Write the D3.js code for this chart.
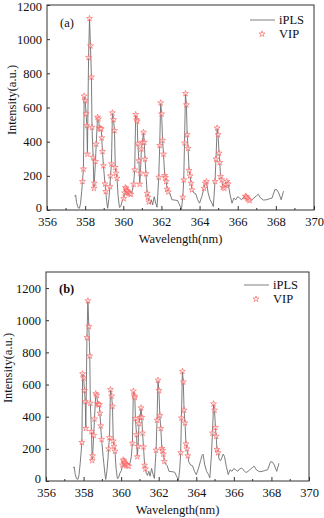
<!DOCTYPE html>
<html><head><meta charset="utf-8">
<script src="https://cdn.jsdelivr.net/npm/d3@7"></script>
<style>body{margin:0;background:#fff}svg{display:block}text{font-family:"Liberation Serif","Times New Roman",serif;fill:#111}</style>
</head><body><svg id="c" width="324" height="518"></svg>
<script>
// spectrum (iPLS) wavelengths and intensities
const wavelength = [357.45,357.50,357.55,357.62,357.70,357.76,357.82,357.86,357.91,357.95,358.00,358.05,358.09,358.12,358.18,358.23,358.28,358.33,358.36,358.42,358.46,358.48,358.54,358.58,358.65,358.70,358.75,358.80,358.84,358.87,358.91,358.96,359.04,359.08,359.13,359.18,359.24,359.30,359.33,359.38,359.43,359.49,359.54,359.58,359.62,359.67,359.73,359.80,359.86,359.94,360.02,360.07,360.11,360.15,360.18,360.22,360.26,360.30,360.34,360.40,360.47,360.54,360.60,360.65,360.70,360.73,360.76,360.82,360.86,360.90,360.95,361.00,361.06,361.10,361.14,361.19,361.25,361.29,361.34,361.40,361.47,361.54,361.62,361.70,361.77,361.86,361.91,361.96,362.01,362.06,362.11,362.17,362.21,362.25,362.30,362.36,362.45,362.55,362.70,362.85,362.95,363.05,363.12,363.17,363.21,363.26,363.31,363.35,363.40,363.45,363.50,363.55,363.60,363.70,363.80,363.90,364.00,364.12,364.23,364.30,364.36,364.45,364.55,364.65,364.72,364.81,364.86,364.92,364.97,365.02,365.06,365.10,365.16,365.22,365.30,365.37,365.43,365.50,365.60,365.70,365.80,365.90,366.00,366.10,366.20,366.30,366.40,366.45,366.50,366.55,366.62,366.70,366.85,367.00,367.08,367.20,367.35,367.50,367.65,367.80,367.95,368.05,368.15,368.28,368.40];
const intensity = [80,88,45,15,10,40,110,167,240,667,641,563,494,327,892,1121,961,778,484,308,127,157,284,386,543,533,480,475,475,422,343,259,153,108,50,10,60,137,200,270,569,529,465,249,216,186,80,15,20,50,67,100,131,125,112,110,102,100,95,92,110,151,235,559,529,520,388,288,151,216,357,396,455,396,298,212,98,75,47,35,60,30,78,40,16,192,378,627,563,408,327,202,190,167,122,106,95,60,58,55,30,4,75,176,392,682,616,441,361,231,200,157,118,100,95,60,40,80,127,157,167,100,60,40,20,167,298,480,441,333,278,196,176,133,127,147,167,153,90,40,70,60,78,70,60,75,80,78,70,62,55,55,70,85,92,70,58,60,65,70,120,118,100,60,110];
// VIP-selected wavelengths, panel (a) and (b)
const vipA = [357.86,357.91,357.95,358.00,358.05,358.09,358.12,358.18,358.23,358.28,358.33,358.36,358.42,358.46,358.48,358.54,358.58,358.65,358.70,358.75,358.80,358.84,358.87,358.91,358.96,359.04,359.08,359.30,359.33,359.38,359.43,359.49,359.54,359.58,359.62,359.67,360.02,360.07,360.11,360.15,360.18,360.22,360.26,360.30,360.34,360.40,360.54,360.60,360.65,360.70,360.73,360.76,360.82,360.86,360.90,360.95,361.00,361.06,361.10,361.14,361.19,361.25,361.29,361.34,361.86,361.91,361.96,362.01,362.06,362.11,362.17,362.21,362.25,362.30,362.36,363.12,363.17,363.21,363.26,363.31,363.35,363.40,363.45,363.50,363.55,363.60,364.23,364.30,364.36,364.81,364.86,364.92,364.97,365.02,365.06,365.10,365.16,365.22,365.30,365.37,365.43,365.50,366.40,366.45,366.50,366.55,366.62];
const vipB = [357.91,357.95,358.00,358.05,358.09,358.12,358.18,358.23,358.28,358.33,358.36,358.42,358.46,358.48,358.54,358.58,358.65,358.70,358.75,358.80,358.84,358.87,358.91,358.96,359.33,359.38,359.43,359.49,359.54,359.58,359.62,359.67,360.07,360.11,360.15,360.18,360.22,360.26,360.30,360.34,360.40,360.60,360.65,360.70,360.73,360.76,360.82,360.86,360.90,360.95,361.00,361.06,361.10,361.14,361.19,361.25,361.29,361.86,361.91,361.96,362.01,362.06,362.11,362.17,362.21,362.25,362.30,363.17,363.21,363.26,363.31,363.35,363.40,363.45,363.50,363.55,364.86,364.92,364.97,365.02,365.06,365.10,365.16];
const xTicks = [356,358,360,362,364,366,368,370];
const yTicks = [0,200,400,600,800,1000,1200];

const spectrum = wavelength.map((w,i)=>({w, v: intensity[i]}));
const lookup = new Map(spectrum.map(d=>[d.w.toFixed(2), d]));
const svg = d3.select("#c");
const starPath = d3.symbol().type(d3.symbolStar).size(11)();

function panel(o){
  const g = svg.append("g");
  const x = d3.scaleLinear().domain([356,370]).range([o.left,o.right]);
  const y = d3.scaleLinear().domain([0,o.yMax]).range([o.bottom,o.top]);
  g.append("path").datum(spectrum)
    .attr("d", d3.line().x(d=>x(d.w)).y(d=>y(d.v)))
    .attr("fill","none").attr("stroke","#6e6e6e").attr("stroke-width",0.9).attr("stroke-linejoin","round");
  g.selectAll("path.star").data(o.vip.map(w=>lookup.get(w.toFixed(2)))).join("path")
    .attr("class","star").attr("d",starPath)
    .attr("transform",d=>`translate(${x(d.w)},${y(d.v)})`)
    .attr("fill","#fff").attr("fill-opacity",0.5).attr("stroke","#f55").attr("stroke-width",0.6);
  const minorX = d3.range(356,371,1);
  const xa = g.append("g").attr("transform",`translate(0,${o.bottom})`)
    .call(d3.axisBottom(x).tickValues(xTicks).tickSizeInner(-4).tickSizeOuter(0).tickFormat(d3.format("d")));
  xa.select(".domain").remove();
  xa.selectAll("text").attr("font-size",12.5).attr("y",5).attr("dy","0.85em");
  xa.selectAll("line").attr("stroke","#333");
  g.append("g").selectAll("line").data(minorX.filter(v=>v%2)).join("line")
    .attr("x1",d=>x(d)).attr("x2",d=>x(d)).attr("y1",o.bottom).attr("y2",o.bottom-2).attr("stroke","#333");
  const ya = g.append("g").attr("transform",`translate(${o.left},0)`)
    .call(d3.axisLeft(y).tickValues(yTicks).tickSizeInner(-3).tickSizeOuter(0).tickPadding(5).tickFormat(d3.format("d")));
  ya.select(".domain").remove();
  ya.selectAll("text").attr("font-size",12.5).attr("dy", d=> d===0 ? "0.1em" : (d===1200 && o.top<10 ? "0.45em" : "0.32em"));
  ya.selectAll("line").attr("stroke","#333");
  g.append("rect").attr("x",o.left).attr("y",o.top).attr("width",o.right-o.left).attr("height",o.bottom-o.top)
    .attr("fill","none").attr("stroke","#333").attr("stroke-width",1);
  g.append("text").attr("x",(o.left+o.right)/2).attr("y",o.bottom+33).attr("text-anchor","middle").attr("font-size",12.5).text("Wavelength(nm)");
  g.append("text").attr("transform",`translate(${o.ytx},${o.yty}) rotate(-90)`).attr("text-anchor","middle").attr("dy","0.35em").attr("font-size",12.5).text("Intensity(a.u.)");
  g.append("text").attr("x",o.left+13).attr("y",o.labelY).attr("font-size",12.5).attr("font-weight",o.labelBold?"bold":"normal").text(o.label);
  g.append("line").attr("x1",o.legX-29).attr("x2",o.legX-4).attr("y1",o.legY).attr("y2",o.legY).attr("stroke","#aaa").attr("stroke-width",1.5);
  g.append("text").attr("x",o.legX).attr("y",o.legY).attr("dy","0.35em").attr("font-size",12.5).text("iPLS");
  g.append("path").attr("d",starPath).attr("transform",`translate(${o.legX-17},${o.legY+14})`).attr("fill","#fff").attr("stroke","#f55").attr("stroke-width",0.6);
  g.append("text").attr("x",o.legX).attr("y",o.legY+14).attr("dy","0.35em").attr("font-size",12.5).text("VIP");
}

panel({left:47,right:314,top:5,bottom:210,yMax:1200,vip:vipA,label:"(a)",labelY:27,labelBold:false,ytx:12,yty:100,legX:279,legY:20});
panel({left:46,right:309,top:272,bottom:481,yMax:1300,vip:vipB,label:"(b)",labelY:293,labelBold:true,ytx:8,yty:368,legX:273,legY:285});
</script></body></html>
